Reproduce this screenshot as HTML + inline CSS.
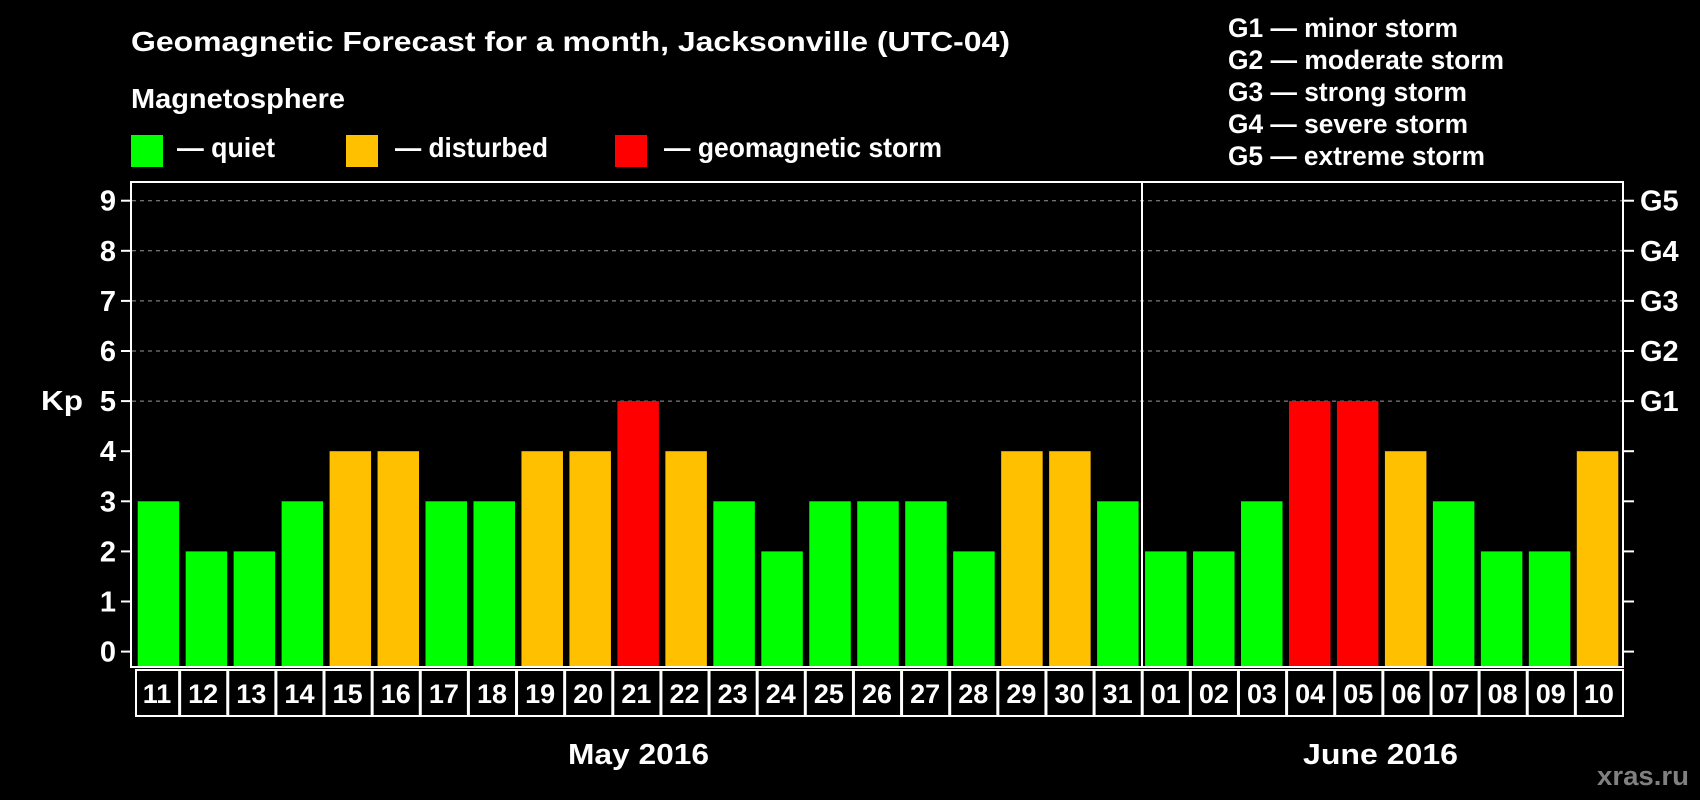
<!DOCTYPE html>
<html><head><meta charset="utf-8"><style>
html,body{margin:0;padding:0;background:#000;}
svg{display:block;}
text{font-family:"Liberation Sans",Arial,sans-serif;font-weight:bold;fill:#fff;}
</style></head><body>
<svg width="1700" height="800" viewBox="0 0 1700 800" xmlns="http://www.w3.org/2000/svg">
<rect width="1700" height="800" fill="#000"/>
<text x="131" y="51" font-size="28" textLength="879" lengthAdjust="spacingAndGlyphs">Geomagnetic Forecast for a month, Jacksonville (UTC-04)</text>
<text x="131" y="108" font-size="28" textLength="214" lengthAdjust="spacingAndGlyphs">Magnetosphere</text>
<rect x="131" y="135" width="32" height="32" fill="#00ff00"/>
<text x="177" y="157" font-size="28" textLength="98" lengthAdjust="spacingAndGlyphs">— quiet</text>
<rect x="346" y="135" width="32" height="32" fill="#ffc000"/>
<text x="395" y="157" font-size="28" textLength="153" lengthAdjust="spacingAndGlyphs">— disturbed</text>
<rect x="615" y="135" width="32" height="32" fill="#ff0000"/>
<text x="664" y="157" font-size="28" textLength="278" lengthAdjust="spacingAndGlyphs">— geomagnetic storm</text>
<g font-size="27">
<text x="1228" y="37" textLength="230" lengthAdjust="spacingAndGlyphs">G1 — minor storm</text>
<text x="1228" y="69" textLength="276" lengthAdjust="spacingAndGlyphs">G2 — moderate storm</text>
<text x="1228" y="101" textLength="239" lengthAdjust="spacingAndGlyphs">G3 — strong storm</text>
<text x="1228" y="133" textLength="240" lengthAdjust="spacingAndGlyphs">G4 — severe storm</text>
<text x="1228" y="165" textLength="257" lengthAdjust="spacingAndGlyphs">G5 — extreme storm</text>
</g>
<g id="grid" stroke="#999" stroke-width="1" stroke-dasharray="4,4"></g>
<g id="bars"></g>
<rect x="131" y="182" width="1492" height="485" fill="none" stroke="#fff" stroke-width="2"/>
<line x1="1142" y1="182" x2="1142" y2="667" stroke="#fff" stroke-width="2"/>
<g id="ticks" stroke="#fff" stroke-width="2"></g>
<g id="labs"></g>
<text x="41" y="410" font-size="28" textLength="42" lengthAdjust="spacingAndGlyphs">Kp</text>
<text x="568" y="764" font-size="29" textLength="141" lengthAdjust="spacingAndGlyphs">May 2016</text>
<text x="1303" y="764" font-size="29" textLength="155" lengthAdjust="spacingAndGlyphs">June 2016</text>
<text x="1597" y="785" font-size="27" textLength="92" lengthAdjust="spacingAndGlyphs" style="fill:#808080">xras.ru</text>
<script>
var ns="http://www.w3.org/2000/svg";
function el(t,a,txt){var e=document.createElementNS(ns,t);for(var k in a)e.setAttribute(k,a[k]);if(txt!==undefined)e.textContent=txt;return e;}
var y0=651.6,u=50.1,bot=666;
var C={g:"#00ff00",o:"#ffc000",r:"#ff0000"};
var data=[[3,'g'],[2,'g'],[2,'g'],[3,'g'],[4,'o'],[4,'o'],[3,'g'],[3,'g'],[4,'o'],[4,'o'],[5,'r'],[4,'o'],[3,'g'],[2,'g'],[3,'g'],[3,'g'],[3,'g'],[2,'g'],[4,'o'],[4,'o'],[3,'g'],
[2,'g'],[2,'g'],[3,'g'],[5,'r'],[5,'r'],[4,'o'],[3,'g'],[2,'g'],[2,'g'],[4,'o']];
var names=[];for(var i=11;i<=31;i++)names.push(''+i);for(var i=1;i<=10;i++)names.push(i<10?'0'+i:''+i);
var bars=document.getElementById('bars'),labs=document.getElementById('labs'),ticks=document.getElementById('ticks'),grid=document.getElementById('grid');
var W=1492/31;
data.forEach(function(d,i){var cx=131+i*W;var top=y0-d[0]*u;
 bars.appendChild(el('rect',{x:137.7+i*47.97,y:top,width:41.5,height:bot-top,fill:C[d[1]]}));
 var lx=(i==0?cx+4:cx);
 labs.appendChild(el('rect',{x:lx+1,y:670,width:cx+W-lx-1,height:46,fill:'none',stroke:'#fff','stroke-width':2}));
 labs.appendChild(el('text',{x:cx+W/2+(i==0?2:0),y:703,'font-size':27,'text-anchor':'middle'},names[i]));
});
for(var k=0;k<=9;k++){var y=y0-k*u;
 ticks.appendChild(el('line',{x1:121,y1:y,x2:131,y2:y}));
 ticks.appendChild(el('line',{x1:1623,y1:y,x2:1634,y2:y}));
 labs.appendChild(el('text',{x:116,y:y+10,'font-size':29,'text-anchor':'end'},k+''));
 if(k>=5){labs.appendChild(el('text',{x:1640,y:y+10,'font-size':29},'G'+(k-4)));
  grid.appendChild(el('line',{x1:132,y1:y,x2:1622,y2:y}));}
}
</script>
</svg>
</body></html>
